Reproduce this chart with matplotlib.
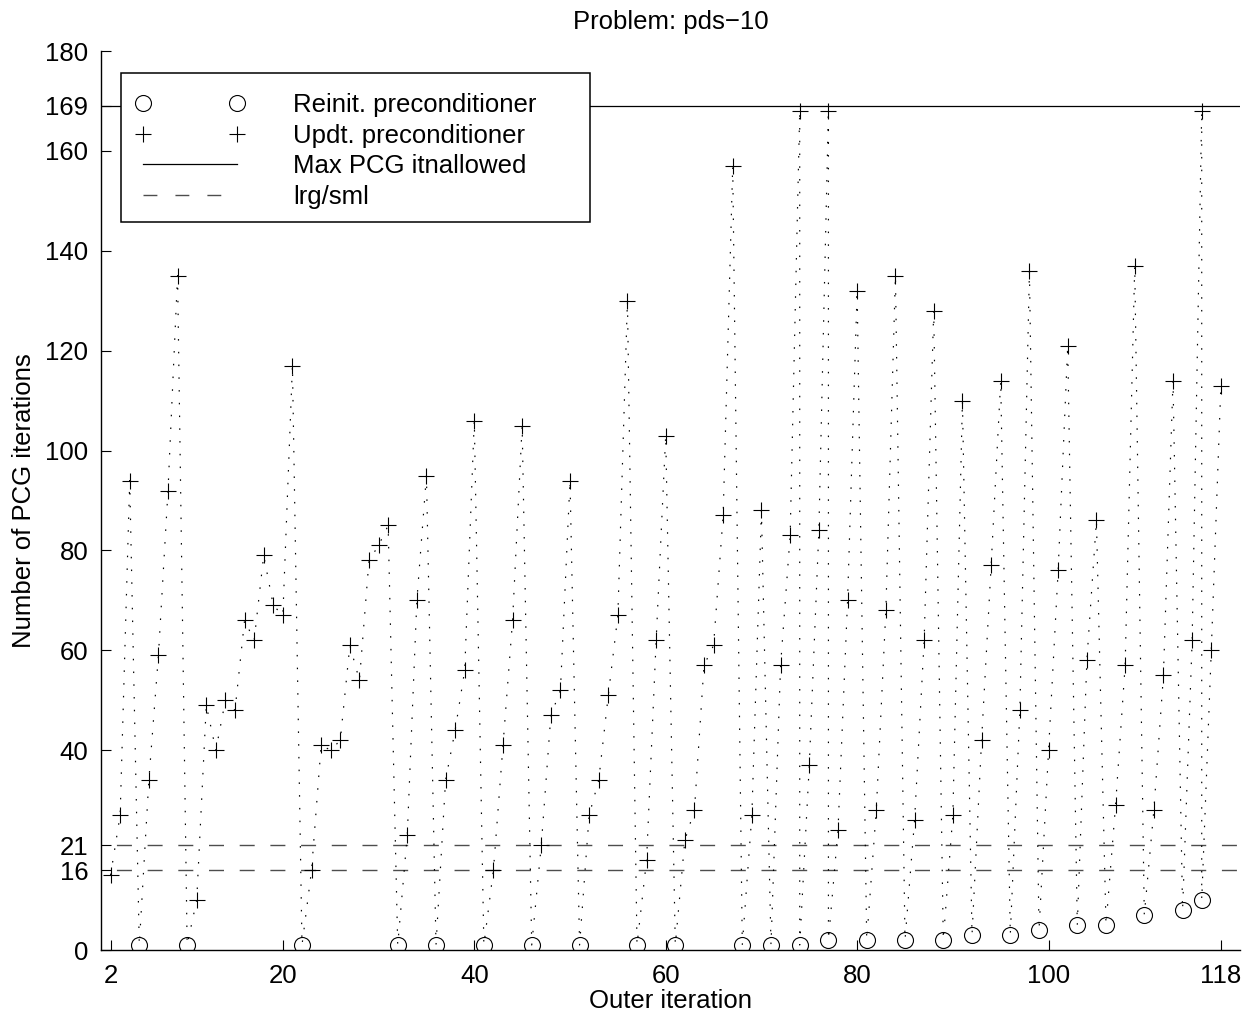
import matplotlib
matplotlib.use('Agg')
import matplotlib.pyplot as plt
from matplotlib.patches import Rectangle
from matplotlib.lines import Line2D

plt.rcParams['font.family'] = ['Liberation Sans', 'DejaVu Sans']

# ---- data ----
reinit_iter = [5, 10, 22, 32, 36, 41, 46, 51, 57, 61, 68, 71, 74, 77, 81, 85, 89,
               92, 96, 99, 103, 106, 110, 114, 116]
reinit_pcg = [1, 1, 1, 1, 1, 1, 1, 1, 1, 1, 1, 1, 1, 2, 2, 2, 2,
              3, 3, 4, 5, 5, 7, 8, 10]

updt_iter = [2, 3, 4, 6, 7, 8, 9, 11, 12, 13, 14, 15, 16, 17, 18, 19, 20, 21,
             23, 24, 25, 26, 27, 28, 29, 30, 31, 33, 34, 35, 37, 38, 39, 40,
             42, 43, 44, 45, 47, 48, 49, 50, 52, 53, 54, 55, 56, 58, 59, 60,
             62, 63, 64, 65, 66, 67, 69, 70, 72, 73, 74, 75, 76, 77, 78, 79,
             80, 82, 83, 84, 86, 87, 88, 90, 91, 93, 94, 95, 97, 98, 100, 101,
             102, 104, 105, 107, 108, 109, 111, 112, 113, 115, 116, 117, 118]
updt_pcg = [15, 27, 94, 34, 59, 92, 135, 10, 49, 40, 50, 48, 66, 62, 79, 69, 67, 117,
            16, 41, 40, 42, 61, 54, 78, 81, 85, 23, 70, 95, 34, 44, 56, 106,
            16, 41, 66, 105, 21, 47, 52, 94, 27, 34, 51, 67, 130, 18, 62, 103,
            22, 28, 57, 61, 87, 157, 27, 88, 57, 83, 168, 37, 84, 168, 24, 70,
            132, 28, 68, 135, 26, 62, 128, 27, 110, 42, 77, 114, 48, 136, 40, 76,
            121, 58, 86, 29, 57, 137, 28, 55, 114, 62, 168, 60, 113]

max_pcg = 169
lrg_sml = [21, 16]
xticks = [2, 20, 40, 60, 80, 100, 118]
yticks = [0, 16, 21, 40, 60, 80, 100, 120, 140, 160, 169, 180]
labels = ['Reinit. preconditioner', 'Updt. preconditioner',
          'Max PCG itnallowed', 'lrg/sml']

# full sequence (update first, then reinit at the same outer iteration)
seq = sorted([(x, 0, v) for x, v in zip(updt_iter, updt_pcg)] +
             [(x, 1, v) for x, v in zip(reinit_iter, reinit_pcg)])
seq_x = [s[0] for s in seq]
seq_y = [s[2] for s in seq]

FS = 18.5
fig = plt.figure(figsize=(12.57, 10.25), dpi=100)
ax = fig.add_axes([0.08035, 0.07317, 0.90613, 0.87707])

dot_style = (0, (1.3, 9.5))
ax.plot(seq_x, seq_y, color='k', lw=0.85, linestyle=dot_style, zorder=2)
ax.plot(reinit_iter, reinit_pcg, ls='none', marker='o', mfc='none', mec='k',
        ms=11.5, mew=0.8, zorder=3)
ax.plot(updt_iter, updt_pcg, ls='none', marker='+', color='k',
        ms=11.5, mew=0.8, zorder=3)
ax.axhline(max_pcg, color='k', lw=0.9, zorder=1)
dash_style = (11, (10.8, 11.3))
for v in lrg_sml:
    ax.axhline(v, color='0.3', lw=1.0, linestyle=dash_style, zorder=1)

ax.set_xlim(1, 120)
ax.set_ylim(0, 180)
ax.set_xticks(xticks)
ax.set_yticks(yticks)
ax.spines['top'].set_visible(False)
ax.spines['right'].set_visible(False)
for s in ('left', 'bottom'):
    ax.spines[s].set_linewidth(1.0)
ax.tick_params(direction='in', length=7, width=0.8, labelsize=FS)
ax.tick_params(axis='x', pad=10)
ax.tick_params(axis='y', pad=9)

ax.set_title('Problem: pds\u221210', fontsize=FS, pad=16)
ax.set_xlabel('Outer iteration', fontsize=FS)
ax.set_ylabel('Number of PCG iterations', fontsize=FS)
ax.xaxis.set_label_coords(0.5, -0.043)
ax.yaxis.set_label_coords(-0.057, 0.5)

# legend
h1 = Line2D([], [], ls='none', marker='o', mfc='none', mec='k', ms=11.5, mew=0.8)
h2 = Line2D([], [], ls='none', marker='+', color='k', ms=11.5, mew=0.8)
h3 = Line2D([], [], color='k', lw=0.9)
h4 = Line2D([], [], color='0.3', lw=1.0, linestyle=(0, (10.0, 13.0)))
rect = Rectangle((0.01756, 0.8098), 0.41174, 0.1657, transform=ax.transAxes,
                 fc='white', ec='k', lw=1.1, zorder=5, clip_on=False)
ax.add_patch(rect)
leg = ax.legend([h1, h2, h3, h4], labels, loc='upper left',
                bbox_to_anchor=(0.0301, 0.953), borderaxespad=0, borderpad=0,
                frameon=False, numpoints=2, handlelength=4.26,
                handletextpad=1.88, labelspacing=0.25, fontsize=FS)
leg.set_zorder(6)

fig.savefig('out.png', dpi=100)
